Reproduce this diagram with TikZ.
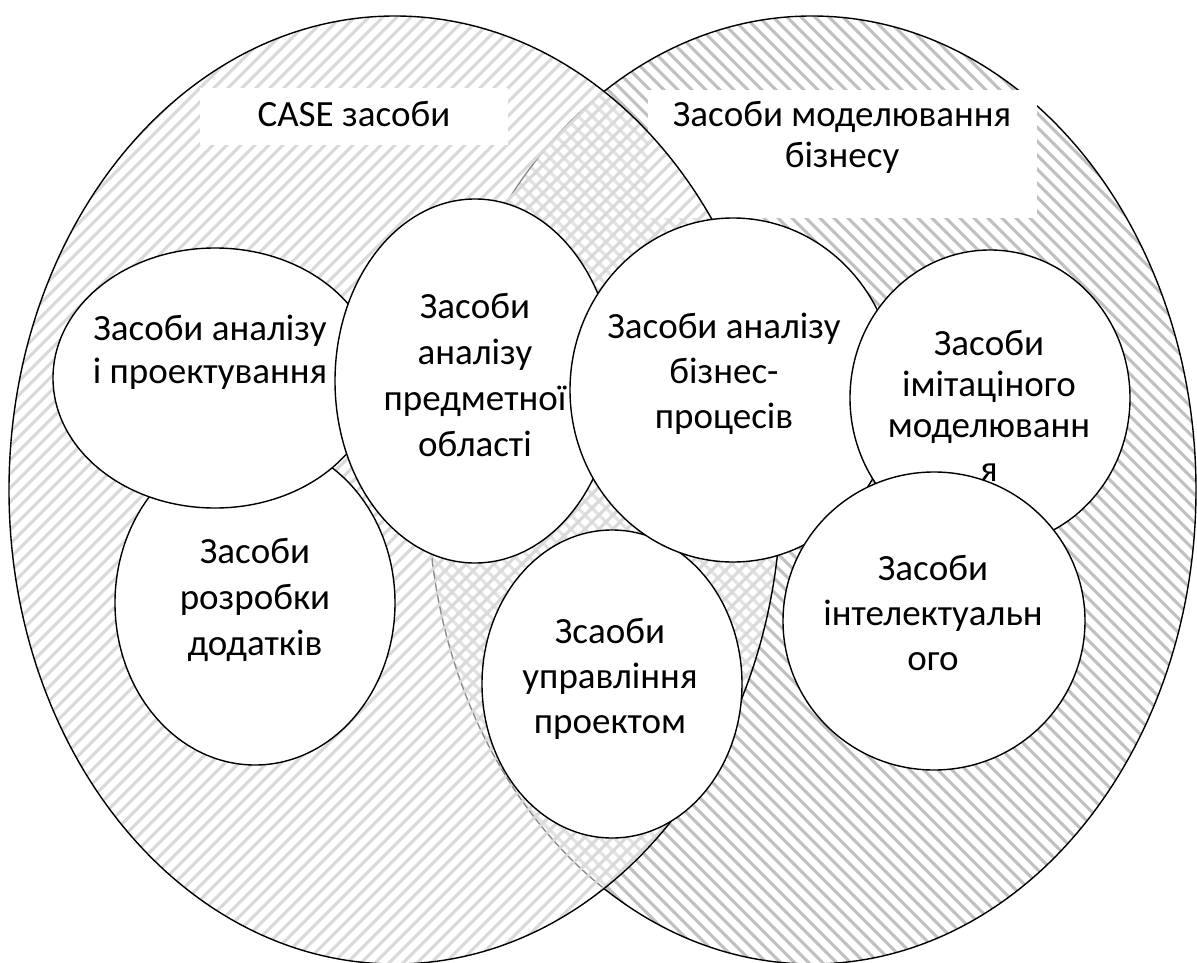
\documentclass[tikz,border=0pt]{standalone}
\usepackage{fontspec}
\setmainfont{Carlito}
\usetikzlibrary{shapes.geometric}

\definecolor{hatchL}{HTML}{D9D9D9}
\definecolor{hatchR}{HTML}{C0C0C0}

\begin{document}
\begin{tikzpicture}[x=1pt, y=-1pt,
  bubble/.style={ellipse, draw=black, line width=1.4pt, fill=white, inner sep=0pt},
  txt/.style={anchor=base, text width=420pt, align=flush center, inner sep=0pt,
              font=\fontsize{37}{45}\selectfont},
  titlebox/.style={rectangle, fill=white, draw=none, inner sep=0pt},
  outline/.style={draw=black, line width=1.4pt},
  stripeL/.style={draw=hatchL, line width=3pt},
  stripeR/.style={draw=hatchR, line width=3pt},
]
\useasboundingbox (0,0) rectangle (1197,963);
\clip (0,0) rectangle (1197,963);

% business modelling tools (right set), hatched "\"
\fill[white] (812,490) ellipse [x radius=384pt, y radius=474pt];
\begin{scope}
  \clip (812,490) ellipse [x radius=384pt, y radius=474pt];
  \foreach \k in {0,...,150} \draw[stripeR] (\k*14-1000,-20) -- ++(1100,1100);
\end{scope}
\draw[outline] (812,490) ellipse [x radius=384pt, y radius=474pt];
\node[titlebox, minimum width=389pt, minimum height=128pt] (t2box) at (842.5,154) {};

% CASE tools (left set), hatched "/", lightened over the right one
\fill[white, fill opacity=0.55] (395,490) ellipse [x radius=386pt, y radius=474pt];
\begin{scope}
  \clip (395,490) ellipse [x radius=386pt, y radius=474pt];
  \foreach \k in {0,...,150} \draw[stripeL] (\k*14-1000,980) -- ++(1100,-1100);
\end{scope}
\draw[outline] (395,490) ellipse [x radius=386pt, y radius=474pt];
\node[titlebox, minimum width=308pt, minimum height=57pt] (t1box) at (354,116.5) {};

% tool groups
\node[bubble, minimum width=280pt, minimum height=324pt] (c2) at (255,603) {};
\node[txt, font=\fontsize{37}{46}\selectfont] (c2t) at (255,563) {Засоби\\розробки\\додатків};

\node[bubble, minimum width=324pt, minimum height=260pt] (c1) at (215,378) {};
\node[txt, font=\fontsize{37}{43}\selectfont] (c1t) at (210,340) {Засоби аналізу\\і проектування};

\node[bubble, minimum width=280pt, minimum height=364pt] (c3) at (475,381) {};
\node[txt, font=\fontsize{37}{46}\selectfont] (c3t) at (475,318) {Засоби\\аналізу\\предметної\\області};

\node[bubble, minimum width=260pt, minimum height=308pt] (c7) at (612,684) {};
\node[txt] (c7t) at (610,643) {Зсаоби\\управління\\проектом};

\node[bubble, minimum width=326pt, minimum height=344pt] (c4) at (733,390) {};
\node[txt] (c4t) at (724,338) {Засоби аналізу\\бізнес-\\процесів};

\node[bubble, minimum width=280pt, minimum height=296pt] (c5) at (990,398) {};
\node[txt, font=\fontsize{37}{41}\selectfont] (c5t) at (989,355) {Засоби\\імітаціного\\моделюванн\\[3pt]я};

\node[bubble, minimum width=302pt, minimum height=298pt] (c6) at (934,621) {};
\node[txt] (c6t) at (933,580) {Засоби\\інтелектуальн\\ого};

% set captions
\node[txt] (t1) at (354,127) {CASE засоби};
\node[txt, font=\fontsize{37}{41}\selectfont] (t2) at (842,127) {Засоби моделювання\\бізнесу};
\end{tikzpicture}
\end{document}
